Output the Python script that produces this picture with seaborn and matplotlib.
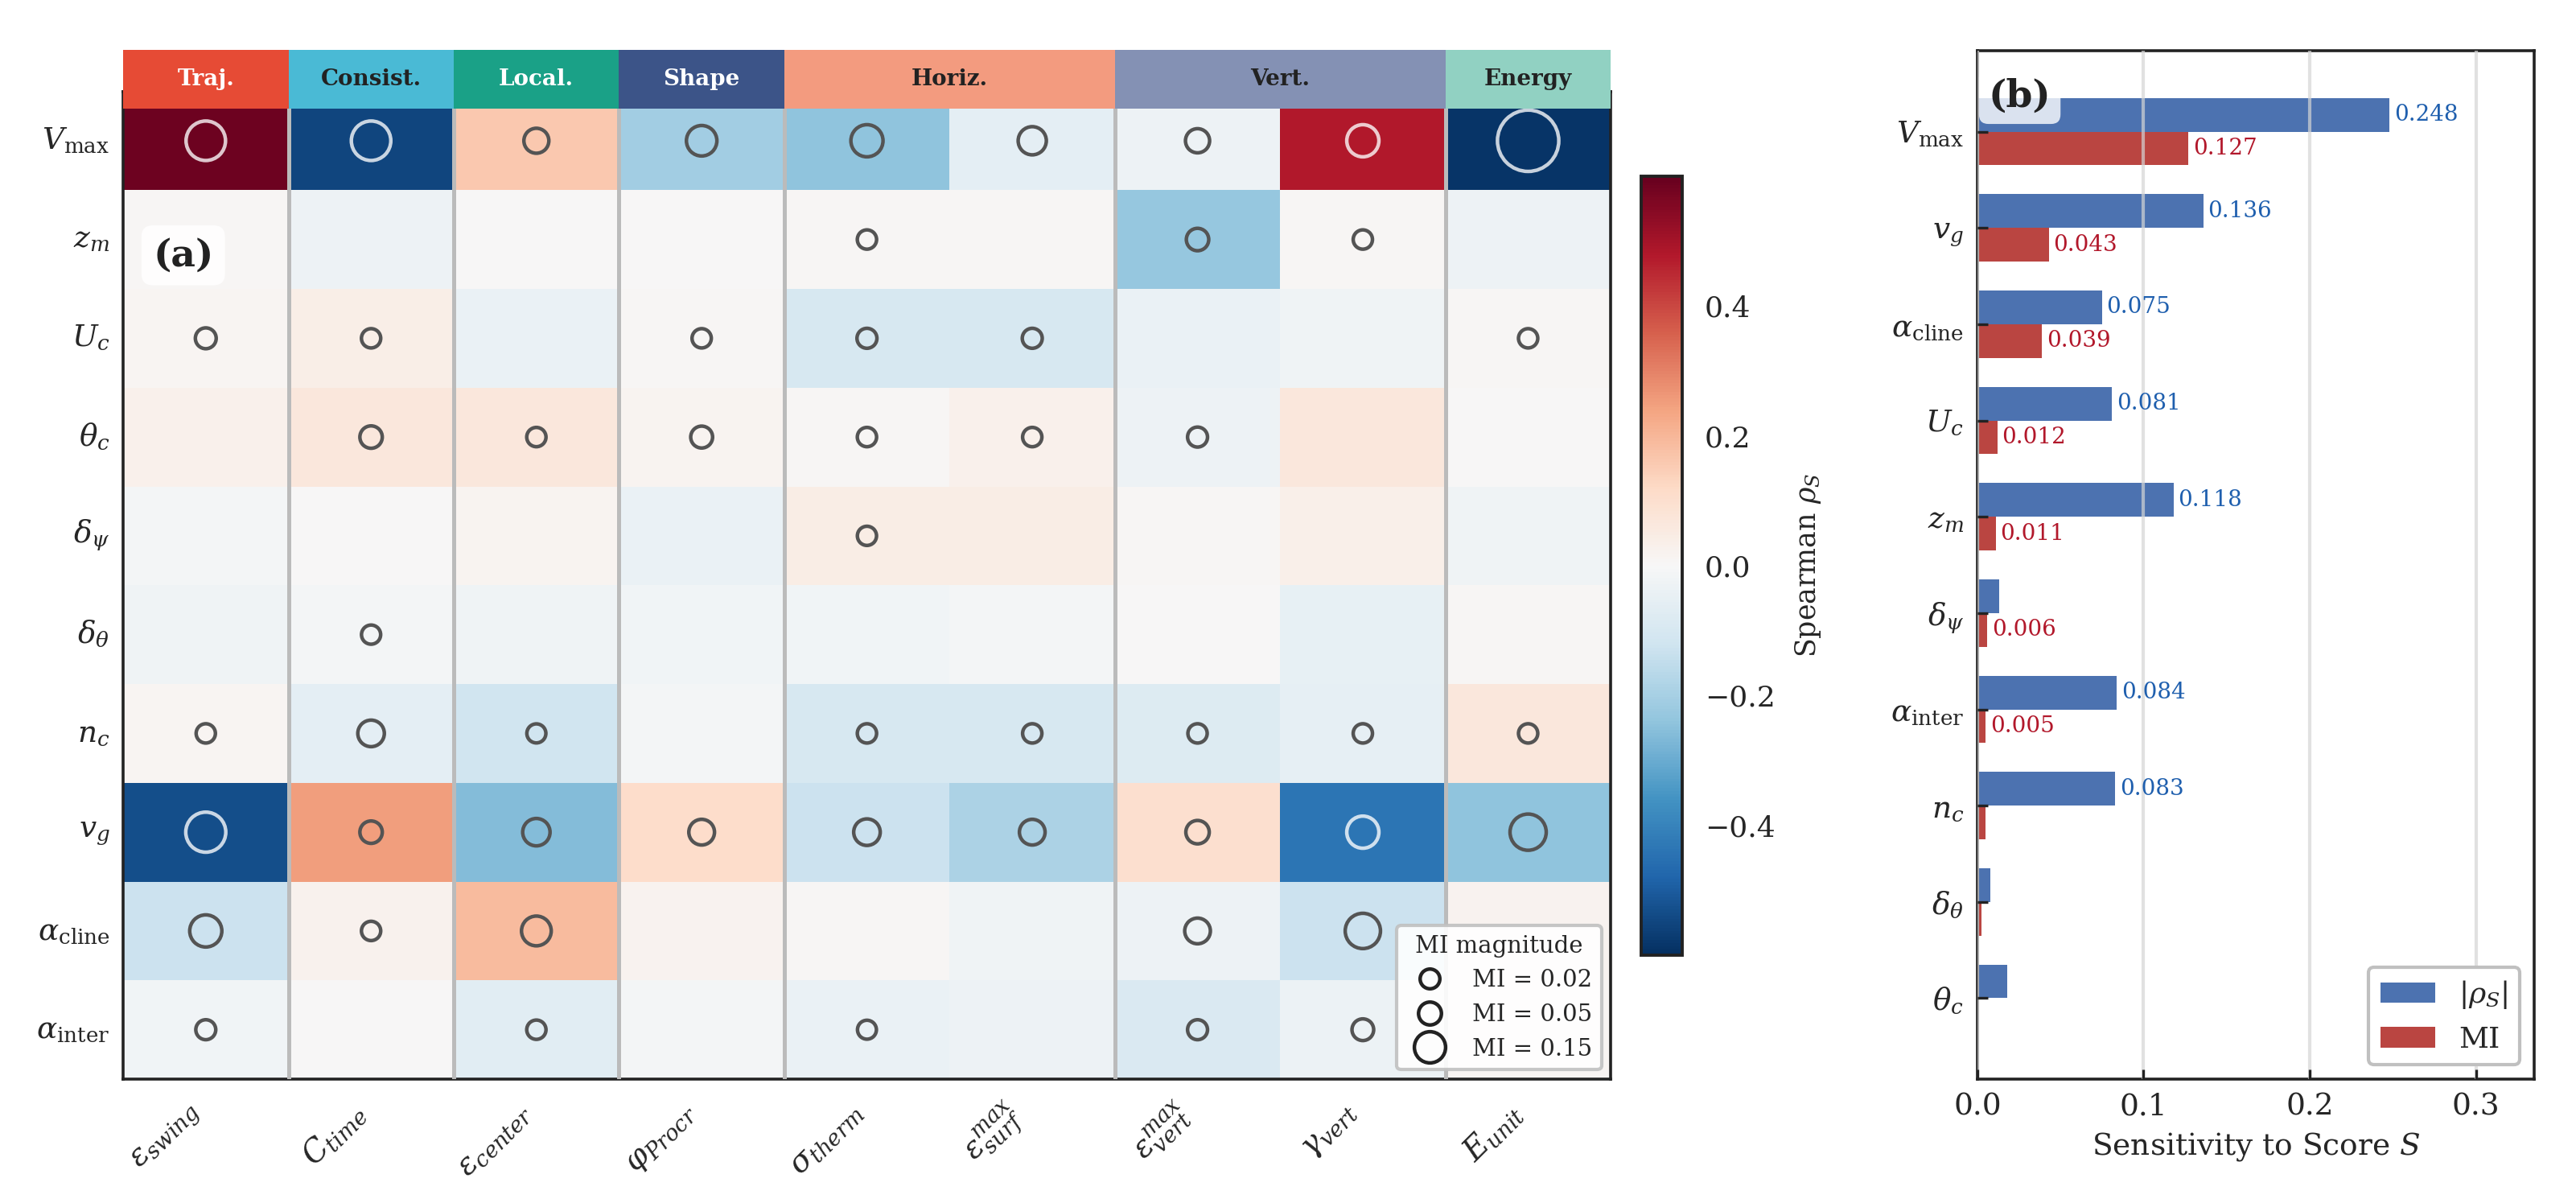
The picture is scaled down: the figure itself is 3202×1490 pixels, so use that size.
import numpy as np
import pandas as pd
import seaborn as sns
import matplotlib.pyplot as plt
from matplotlib.lines import Line2D

sns.set_theme(style="ticks")
plt.rcParams['font.family'] = ['DejaVu Serif']
plt.rcParams['mathtext.fontset'] = 'dejavuserif'

# --- data -------------------------------------------------------------
params = [r'$V_{\mathrm{max}}$', r'$z_m$', r'$U_c$', r'$\theta_c$', r'$\delta_\psi$',
          r'$\delta_\theta$', r'$n_c$', r'$v_g$', r'$\alpha_{\mathrm{cline}}$',
          r'$\alpha_{\mathrm{inter}}$']
metrics = [r'$\varepsilon_{swing}$', r'$C_{time}$', r'$\varepsilon_{center}$',
           r'$\varphi_{Procr}$', r'$\sigma_{therm}$', r'$\varepsilon_{surf}^{max}$',
           r'$\varepsilon_{vert}^{max}$', r'$\gamma_{vert}$', r'$E_{unit}$']

groups = ['Traj.', 'Consist.', 'Local.', 'Shape', 'Horiz.', 'Vert.', 'Energy']
group_ncols = [1, 1, 1, 1, 2, 2, 1]
group_colors = ['#E64B35', '#4ABAD5', '#1AA187', '#3C5488', '#F39B7F', '#8491B4', '#91D1C2']
group_text = ['white', '#222222', 'white', 'white', '#222222', '#222222', '#222222']

# Spearman rho (rows = params, cols = metrics)
rho = [
    [0.59, -0.55, 0.16, -0.21, -0.24, -0.06, -0.03, 0.48, -0.59],
    [0.005, -0.03, 0.0, 0.0, 0.005, 0.005, -0.23, 0.005, -0.03],
    [0.01, 0.04, -0.04, 0.005, -0.10, -0.10, -0.04, -0.025, 0.005],
    [0.03, 0.07, 0.07, 0.015, 0.005, 0.03, -0.03, 0.07, 0.0],
    [-0.01, 0.0, 0.015, -0.04, 0.045, 0.045, 0.005, 0.035, -0.025],
    [-0.025, -0.01, -0.025, -0.02, -0.02, -0.01, 0.0, -0.05, 0.005],
    [0.01, -0.06, -0.12, -0.01, -0.10, -0.10, -0.08, -0.055, 0.07],
    [-0.53, 0.25, -0.26, 0.11, -0.13, -0.19, 0.10, -0.44, -0.24],
    [-0.13, 0.025, 0.19, 0.02, 0.005, -0.025, -0.03, -0.13, 0.02],
    [-0.02, 0.0, -0.07, -0.01, -0.04, -0.03, -0.09, -0.035, 0.01],
]

# mutual information per cell (circle size)
mi_cells = [
    [0.28, 0.28, 0.072, 0.14, 0.163, 0.11, 0.063, 0.163, 0.77],
    [0.0, 0.0, 0.0, 0.0, 0.016, 0.0, 0.045, 0.016, 0.0],
    [0.03, 0.016, 0.0, 0.016, 0.022, 0.022, 0.0, 0.0, 0.016],
    [0.0, 0.045, 0.016, 0.04, 0.016, 0.016, 0.022, 0.0, 0.0],
    [0.0, 0.0, 0.0, 0.0, 0.015, 0.0, 0.0, 0.0, 0.0],
    [0.0, 0.015, 0.0, 0.0, 0.0, 0.0, 0.0, 0.0, 0.0],
    [0.016, 0.09, 0.014, 0.0, 0.016, 0.016, 0.016, 0.016, 0.016],
    [0.29, 0.045, 0.10, 0.08, 0.09, 0.08, 0.055, 0.163, 0.225],
    [0.163, 0.016, 0.13, 0.0, 0.0, 0.0, 0.08, 0.21, 0.0],
    [0.022, 0.0, 0.016, 0.0, 0.013, 0.0, 0.022, 0.038, 0.0],
]
mi_legend = [0.02, 0.05, 0.15]

# panel (b): sensitivity to score S
bar_params = [r'$V_{\mathrm{max}}$', r'$v_g$', r'$\alpha_{\mathrm{cline}}$', r'$U_c$', r'$z_m$',
              r'$\delta_\psi$', r'$\alpha_{\mathrm{inter}}$', r'$n_c$', r'$\delta_\theta$',
              r'$\theta_c$']
rho_abs = [0.248, 0.136, 0.075, 0.081, 0.118, 0.013, 0.084, 0.083, 0.008, 0.018]
mi_score = [0.127, 0.043, 0.039, 0.012, 0.011, 0.006, 0.005, 0.0048, 0.0025, 0.0]


def mi_size(m):
    return 60 + 900 * np.asarray(m)


fig = plt.figure(figsize=(16.01, 7.45), dpi=200)
ax = fig.add_axes([0.0478, 0.1, 0.5775, 0.8238])
cax = fig.add_axes([0.637, 0.2034, 0.016, 0.6496])
axh = fig.add_axes([0.0478, 0.9094, 0.5775, 0.049])
ax2 = fig.add_axes([0.7676, 0.1, 0.2161, 0.8577])

# --- panel (a) heatmap -------------------------------------------------
rho_df = pd.DataFrame(rho, index=params, columns=metrics)
sns.heatmap(rho_df, ax=ax, cmap='RdBu_r', vmin=-0.6, vmax=0.6, cbar_ax=cax)

for x in np.cumsum(group_ncols)[:-1]:
    ax.axvline(x, color='#bbbbbb', lw=1.8, zorder=3)

mi_arr = np.array(mi_cells)
rho_arr = np.array(rho)
ii, jj = np.where(mi_arr >= 0.01)
edge = [(1, 1, 1, 0.78) if abs(rho_arr[i, j]) > 0.35 else (0.33, 0.33, 0.33, 1) for i, j in zip(ii, jj)]
ax.scatter(jj + 0.5, ii + 0.5, s=mi_size(mi_arr[ii, jj]), facecolors='none',
           edgecolors=edge, linewidths=1.6, zorder=4)

for s in ax.spines.values():
    s.set_visible(True)
    s.set_linewidth(1.3)
    s.set_color('#222222')
ax.tick_params(axis='both', direction='in', length=4.5, width=1.2, color='#222222')
ax.tick_params(axis='y', pad=6, labelsize=13.5)
ax.tick_params(axis='x', pad=8, labelsize=14)
ax.set_yticklabels(params, rotation=0)
ax.set_xticklabels(metrics, rotation=45, ha='right')
ax.set_xlabel('')
ax.set_ylabel('')

ax.text(0.02, 0.834, '(a)', transform=ax.transAxes, fontsize=17, fontweight='bold',
        ha='left', va='center', color='#222222', zorder=6,
        bbox=dict(boxstyle='round,pad=0.3', fc='white', ec='none', alpha=0.9))

handles = [Line2D([], [], ls='none', marker='o', markersize=np.sqrt(mi_size(m)),
                  markerfacecolor='none', markeredgecolor='#222222', markeredgewidth=1.6)
           for m in mi_legend]
leg = ax.legend(handles, [f'MI = {m:.2f}' for m in mi_legend], title='MI magnitude',
                loc='lower right', fontsize=10.5, title_fontsize=10.5, frameon=True,
                framealpha=0.9, edgecolor='#c0c0c0', borderaxespad=0.4)
leg.get_frame().set_linewidth(1.5)
leg.set_zorder(10)

# colorbar
cbar = ax.collections[0].colorbar
cbar.set_ticks([-0.4, -0.2, 0.0, 0.2, 0.4])
cbar.ax.tick_params(direction='in', length=4.5, width=1.2, labelsize=13, pad=10)
cbar.outline.set_visible(True)
cbar.outline.set_linewidth(1.4)
cbar.outline.set_edgecolor('#222222')
cbar.set_label(r'Spearman $\rho_S$', fontsize=12.5, labelpad=8)

# group header
axh.set_xlim(0, len(metrics))
axh.set_ylim(0, 1)
start = 0
for g, n, c, tc in zip(groups, group_ncols, group_colors, group_text):
    axh.axvspan(start, start + n, color=c, lw=0)
    axh.text(start + n / 2, 0.5, g, ha='center', va='center', fontsize=10,
             fontweight='bold', color=tc)
    start += n
axh.axis('off')

# --- panel (b) bars ----------------------------------------------------
blue = '#4C72B0'
red = '#BA4541'
bar_df = pd.DataFrame({
    'param': bar_params * 2,
    'value': rho_abs + mi_score,
    'metric': [r'$|\rho_S|$'] * len(bar_params) + ['MI'] * len(bar_params),
})
sns.barplot(data=bar_df, x='value', y='param', hue='metric', orient='h',
            palette=[blue, red], saturation=1, width=0.7, linewidth=0, ax=ax2)

ax2.bar_label(ax2.containers[0], labels=[f'{v:.3f}' if v >= 0.02 else '' for v in rho_abs],
              padding=2, fontsize=10, color='#1f5fae')
ax2.bar_label(ax2.containers[1], labels=[f'{v:.3f}' if v >= 0.005 else '' for v in mi_score],
              padding=2, fontsize=10, color='#b2182b')

ax2.set_xlim(0, 0.335)
ax2.set_ylim(9.84, -0.84)
ax2.set_xticks([0.0, 0.1, 0.2, 0.3])
ax2.set_xticklabels(['0.0', '0.1', '0.2', '0.3'])
ax2.xaxis.grid(True, color='#d5d5d5', lw=1.5, alpha=0.7)
ax2.set_axisbelow(False)
for s in ax2.spines.values():
    s.set_visible(True)
    s.set_linewidth(1.3)
    s.set_color('#222222')
ax2.tick_params(axis='both', direction='in', length=4.5, width=1.2, color='#222222',
                labelsize=13.5, pad=6)
ax2.set_ylabel('')
ax2.set_xlabel(r'Sensitivity to Score $S$', fontsize=13.5)

leg2 = ax2.legend(loc='lower right', fontsize=13, frameon=True, framealpha=1,
                  edgecolor='#c0c0c0', handlelength=1.9)
leg2.get_frame().set_linewidth(1.5)

ax2.text(0.02, 0.974, '(b)', transform=ax2.transAxes, fontsize=17, fontweight='bold',
         ha='left', va='top', color='#222222', zorder=6,
         bbox=dict(boxstyle='round,pad=0.25', fc='white', ec='none', alpha=0.8))

fig.savefig('out.png', dpi=200)
